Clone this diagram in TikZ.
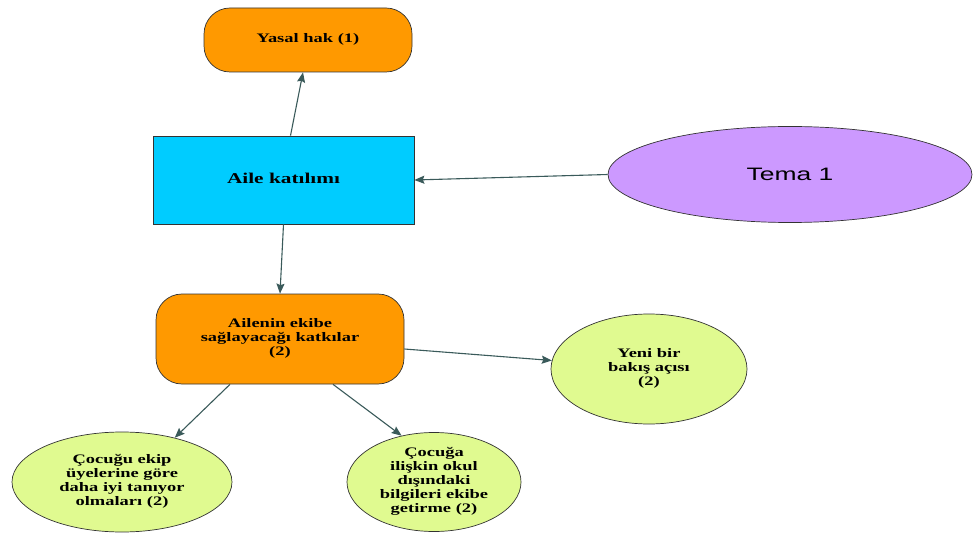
\documentclass[tikz,border=0pt]{standalone}
\usepackage{fontspec}
\setmainfont{Liberation Serif}
\newfontfamily\temafont{Liberation Sans}
\usepackage{graphicx}
\usetikzlibrary{shapes.geometric,arrows.meta}

\definecolor{orangefill}{HTML}{FF9900}
\definecolor{cyanfill}{HTML}{00CCFF}
\definecolor{lilacfill}{HTML}{CC99FF}
\definecolor{limefill}{HTML}{E0FA90}
\definecolor{arrowgray}{HTML}{3A5A5A}

% text of the reference is stretched sideways
\newcommand{\wtext}[2][13]{\scalebox{1.42}[1]{\fontsize{#1}{14}\selectfont\bfseries\begin{tabular}{@{}c@{}}#2\end{tabular}}}

\begin{document}
\begin{tikzpicture}[x=1pt,y=-1pt,->,>={Stealth[length=10pt,width=8pt,inset=1.5pt]},
    every path/.style={draw=arrowgray,line width=1.1pt},
    roundbox/.style={rectangle,rounded corners=26pt,draw=black!80,line width=0.7pt,inner sep=0pt},
    squarebox/.style={rectangle,draw=black!80,line width=0.7pt,inner sep=0pt},
    ellnode/.style={ellipse,draw=black!80,line width=0.7pt,inner sep=0pt}]
    \useasboundingbox[draw=none,-] (0,0) rectangle (973,534);
		\node [roundbox,fill=orangefill,minimum width=208pt,minimum height=64pt] (yasal) at (308,40) {\wtext{Yasal hak (1)}};
		\node [squarebox,fill=cyanfill,minimum width=261pt,minimum height=88pt] (aile) at (283.5,180) {\wtext[15]{Aile katılımı}};
		\node [ellnode,fill=lilacfill,minimum width=364pt,minimum height=96pt] (tema) at (790,174.5) {\scalebox{1.47}[1]{\temafont\fontsize{18}{20}\selectfont Tema 1}};
		\node [roundbox,fill=orangefill,minimum width=248pt,minimum height=90pt] (katki) at (280,339) {\wtext{Ailenin ekibe\\sağlayacağı katkılar\\(2)}};
		\node [ellnode,fill=limefill,minimum width=196pt,minimum height=110pt] (yeni) at (649,369) {\wtext{Yeni bir\\bakış açısı\\(2)}};
		\node [ellnode,fill=limefill,minimum width=220pt,minimum height=100pt] (cocugu) at (122,482) {\wtext{Çocuğu ekip\\üyelerine göre\\daha iyi tanıyor\\olmaları (2)}};
		\node [ellnode,fill=limefill,minimum width=174pt,minimum height=97pt] (cocuga) at (434,482) {\wtext{Çocuğa\\ilişkin okul\\dışındaki\\bilgileri ekibe\\getirme (2)}};
		\draw ([xshift=7pt]aile.north) -- ([xshift=-5pt]yasal.south);
		\draw (tema.west) -- (aile.east);
		\draw (aile.south) -- (katki.north);
		\draw ([yshift=-10pt]katki.east) -- (yeni.175);
		\draw ([xshift=-50pt]katki.south) -- (cocugu.40);
		\draw ([xshift=53pt]katki.south) -- (cocuga.125);
	\end{tikzpicture}
\end{document}
